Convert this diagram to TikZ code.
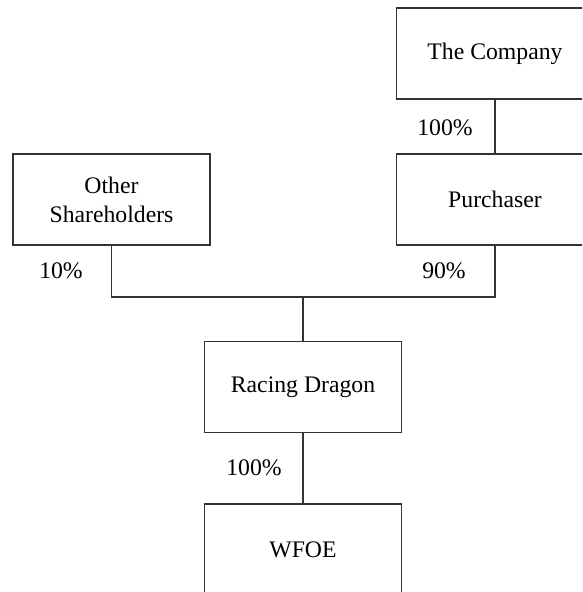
\documentclass[tikz,border=0pt]{standalone}
\usepackage{fontspec}
\setmainfont{Liberation Serif}
\tikzset{
  entity/.style={draw=black!80, line width=0.7pt, minimum width=3.94cm, minimum height=1.82cm, align=center, font=\fontsize{13.5}{16.5}\selectfont},
  share/.style={font=\fontsize{13.5}{16.5}\selectfont},
  link/.style={draw=black!80, line width=0.7pt}
}

\begin{document}
\begin{tikzpicture}[x=0.02cm, y=0.02cm]

    \clip (0,0) rectangle (582,592);

    \draw(495,538.5) node[entity] (C) {The Company};
    \draw(495,392.5) node[entity] (P) {Purchaser};
    \draw(111.5,392.5) node[entity] (O) {Other\\Shareholders};
    \draw(303,205) node[entity] (R) {Racing Dragon};
    \draw(303,42.5) node[entity] (W) {WFOE};
    \coordinate (J) at (303,295);

    \draw(445,464) node[share] (sC) {100\%};
    \draw(61,321) node[share] (sO) {10\%};
    \draw(444,321) node[share] (sP) {90\%};
    \draw(254,124) node[share] (sR) {100\%};

    \draw[link] (C) -- (P);
    \draw[link] (O.south) |- (J);
    \draw[link] (P.south) |- (J);
    \draw[link] (J) -- (R);
    \draw[link] (R) -- (W);

    \end{tikzpicture}
\end{document}
